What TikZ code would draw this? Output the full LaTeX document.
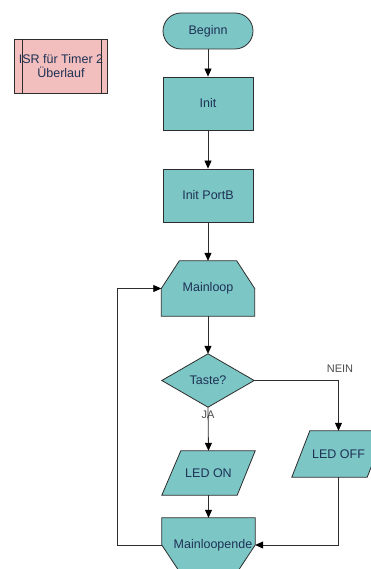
\documentclass[tikz,border=0pt]{standalone}
\usepackage{fontspec}
\setmainfont{Liberation Sans}
\usetikzlibrary{arrows.meta,calc,backgrounds}
\definecolor{tealfill}{RGB}{124,198,198}
\definecolor{pinkfill}{RGB}{242,190,190}
\definecolor{edgegray}{RGB}{45,45,45}
\definecolor{labelnavy}{RGB}{30,50,85}
\begin{document}
\begin{tikzpicture}[x=1pt,y=-1pt,
  txt/.style={font=\fontsize{12.5}{13.5}\selectfont, text=labelnavy, inner sep=0pt},
  slot/.style={txt, minimum width=93pt},
  shapefill/.style={fill=tealfill, draw=edgegray, line width=0.8pt},
  flow/.style={draw=edgegray, line width=0.8pt, -{Triangle[length=8pt,width=7pt,fill=black,color=black]}},
  plain/.style={draw=edgegray, line width=0.8pt},
  branch/.style={font=\fontsize{11}{12}\selectfont, text=black!70, inner sep=0pt}
]
\useasboundingbox (0,0) rectangle (371,569);

% subroutine block
\node[txt, draw=edgegray, line width=0.8pt, fill=pinkfill, minimum width=93pt,
      minimum height=54pt, align=center] (isr) at (61,66)
      {ISR für Timer 2\\Überlauf};
\draw[plain] ($(isr.north west)+(8,0)$) -- ($(isr.south west)+(8,0)$);
\draw[plain] ($(isr.north east)+(-7,0)$) -- ($(isr.south east)+(-7,0)$);

% main flow nodes
\node[slot, minimum height=36pt, shapefill, rounded corners=18pt, minimum width=90pt] (start) at (208,31) {Beginn};
\node[slot, minimum height=53pt, shapefill, minimum width=90pt] (init) at (208,103.5) {Init};
\node[slot, minimum height=53pt, shapefill, minimum width=90pt] (port) at (208,195.5) {Init PortB};
\node[slot, minimum height=55pt] (loop) at (208,288.5) {Mainloop};
\node[slot, minimum width=92pt, minimum height=53pt] (taste) at (208,380.5) {Taste?};
\node[slot, minimum height=44pt] (ledon) at (208.5,473) {LED ON};
\node[slot, minimum height=46pt] (ledoff) at (338.5,454) {LED OFF};
\node[slot, minimum height=54pt] (lend) at (208.5,545) {\hspace*{9pt}Mainloopende};

\node[branch] (nein) at (340,369) {NEIN};
\node[branch] (ja) at (208,415) {JA};

\begin{scope}[on background layer]
  \fill[white] (0,0) rectangle (371,569);
  % loop start: top corners cut off
  \draw[shapefill] (loop.south west) -- (loop.west) -- ($(loop.north west)+(18,0)$)
    -- ($(loop.north east)+(-18,0)$) -- (loop.east) -- (loop.south east) -- cycle;
  % decision
  \draw[shapefill] (taste.north) -- (taste.east) -- (taste.south) -- (taste.west) -- cycle;
  % input/output blocks
  \draw[shapefill] (ledon.south west) -- ($(ledon.north west)+(19,0)$) -- (ledon.north east)
    -- ($(ledon.south east)+(-18,0)$) -- cycle;
  \draw[shapefill] (ledoff.south west) -- ($(ledoff.north west)+(18,0)$) -- (ledoff.north east)
    -- ($(ledoff.south east)+(-18,0)$) -- cycle;
  % loop end: bottom corners cut off
  \draw[shapefill] (lend.north west) -- (lend.west) -- ($(lend.south west)+(18,0)$)
    -- ($(lend.south east)+(-18,0)$) -- (lend.east) -- (lend.north east) -- cycle;
\end{scope}

% connectors
\draw[flow] (start) -- (init);
\draw[flow] (init) -- (port);
\draw[flow] (port) -- (loop.north);
\draw[flow] (loop.south) -- (taste.north);
\draw[flow] (taste.south) -- (ledon.north);
\draw[flow] (taste.east) -| (ledoff.north);
\draw[flow] (ledon.south) -- (lend.north);
\draw[flow] (ledoff.south) |- (lend.east);
\coordinate (back) at (117,545);
\draw[flow] (lend.west) -- (back) |- (loop.west);
\end{tikzpicture}
\end{document}
